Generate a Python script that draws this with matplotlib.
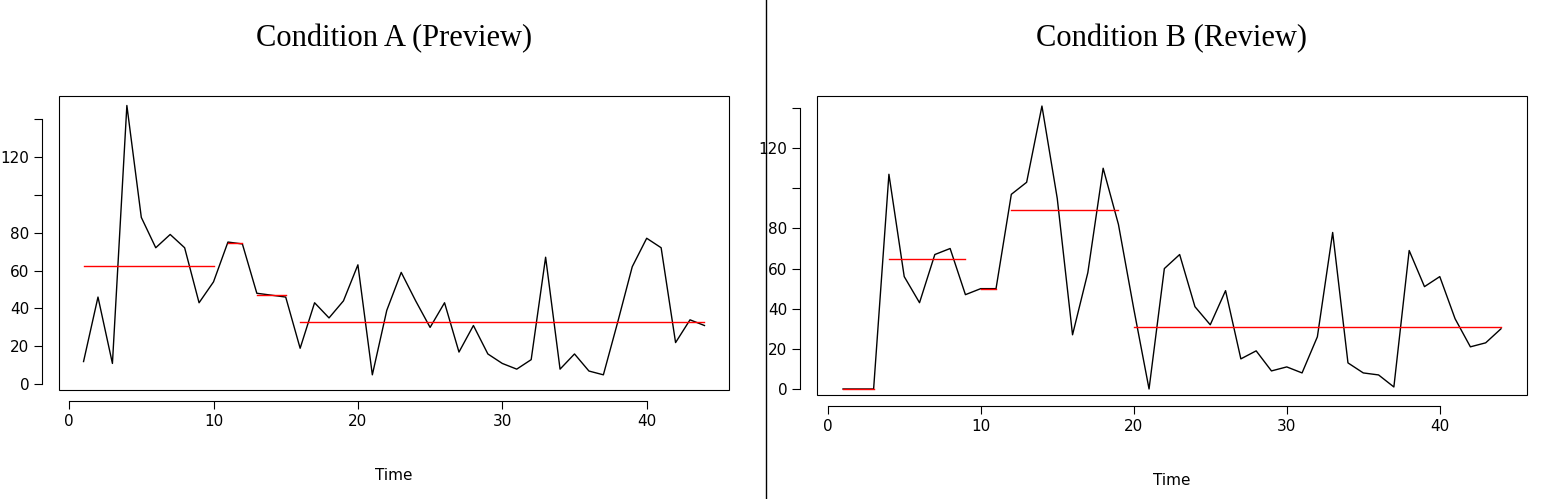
import matplotlib
matplotlib.use("Agg")
import matplotlib.pyplot as plt
from matplotlib.patches import Rectangle
import numpy as np

time = np.arange(1, 45)

vals_a = [12, 46, 11, 147, 88, 72, 79, 72, 43, 54, 75, 74, 48, 47, 46, 19, 43, 35, 44, 63,
          5, 39, 59, 44, 30, 43, 17, 31, 16, 11, 8, 13, 67, 8, 16, 7, 5, 33, 62, 77,
          72, 22, 34, 31]
vals_b = [0, 0, 0, 107, 56, 43, 67, 70, 47, 50, 50, 97, 103, 141, 95, 27, 58, 110, 82, 40,
          0, 60, 67, 41, 32, 49, 15, 19, 9, 11, 8, 26, 78, 13, 8, 7, 1, 69, 51, 56,
          35, 21, 23, 30]

# phase means: (start, end, level)
phases_a = [(1, 10, 62.5), (11, 12, 74.5), (13, 15, 47), (16, 44, 33)]
phases_b = [(1, 3, 0), (4, 9, 65), (10, 11, 50), (12, 19, 89), (20, 44, 31)]

fig = plt.figure(figsize=(15.43, 4.99), dpi=100)
axes = [fig.add_axes([59 / 1543, 1 - 390 / 499, 670 / 1543, 294 / 499]),
        fig.add_axes([817 / 1543, 1 - 395 / 499, 710 / 1543, 299 / 499])]
titles = ["Condition A (Preview)", "Condition B (Review)"]
ytops = [152, 146]

for ax, vals, phases, title, ytop in zip(axes, [vals_a, vals_b], [phases_a, phases_b], titles, ytops):
    ax.plot(time, vals, color="black", lw=1)
    for s, e, lvl in phases:
        ax.plot([s, e], [lvl, lvl], color="red", lw=1)
    ax.set_xlim(-0.7, 45.7)
    ax.set_ylim(-3, ytop)
    ax.set_xticks([0, 10, 20, 30, 40])
    ax.set_yticks([0, 20, 40, 60, 80, 100, 120, 140])
    ax.set_yticklabels(["0", "20", "40", "60", "80", "", "120", ""], rotation=90, va="center")
    ax.tick_params(labelsize=11, length=6)
    ax.set_xlabel("Time", fontsize=11, labelpad=28)
    ax.spines["top"].set_visible(False)
    ax.spines["right"].set_visible(False)
    ax.spines["bottom"].set_position(("outward", 8))
    ax.spines["left"].set_position(("outward", 12))
    ax.spines["bottom"].set_bounds(0, 40)
    ax.spines["left"].set_bounds(0, 140)
    ax.add_patch(Rectangle((0, 0), 1, 1, transform=ax.transAxes, fill=False,
                           edgecolor="black", lw=0.8, clip_on=False))
    ax.set_title(title, family="Liberation Serif", fontsize=22, pad=36)
    for sp in ax.spines.values():
        sp.set_linewidth(0.8)

fig.add_artist(plt.Line2D([766 / 1543, 766 / 1543], [0, 1], color="black", lw=1))
fig.savefig("out.png", dpi=100)
